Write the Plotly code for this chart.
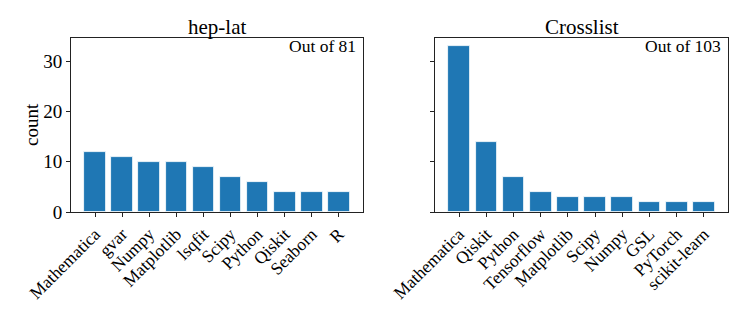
import plotly.graph_objects as go

hep_cats = ["Mathematica", "gvar", "Numpy", "Matplotlib", "lsqfit", "Scipy", "Python", "Qiskit", "Seaborn", "R"]
hep_vals = [12, 11, 10, 10, 9, 7, 6, 4, 4, 4]
cross_cats = ["Mathematica", "Qiskit", "Python", "Tensorflow", "Matplotlib", "Scipy", "Numpy", "GSL", "PyTorch", "scikit-learn"]
cross_vals = [33, 14, 7, 4, 3, 3, 3, 2, 2, 2]
y_ticks = [0, 10, 20, 30]

FONT = "Liberation Serif"
OFF = 8  # default page body margin
W, H = 747 - OFF, 312 - OFF


def px(v):
    return (v - OFF) / W


def py(v):
    return 1 - (v - OFF) / H


fig = go.Figure()
fig.add_trace(go.Bar(x=list(range(len(hep_cats))), y=hep_vals, width=0.8,
                     marker=dict(color="#1f77b4", line=dict(color="white", width=0.8)),
                     xaxis="x", yaxis="y", showlegend=False))
fig.add_trace(go.Bar(x=list(range(len(cross_cats))), y=cross_vals, width=0.8,
                     marker=dict(color="#1f77b4", line=dict(color="white", width=0.8)),
                     xaxis="x2", yaxis="y2", showlegend=False))

ydom = [py(212), py(38)]
axcommon = dict(showgrid=False, zeroline=False, showline=True, mirror=True,
                linecolor="#222", linewidth=1, ticks="outside", ticklen=4,
                tickcolor="#222", automargin=False)
yrange = [0, 34.65]
xrange = [-0.89, 9.89]
fig.update_layout(
    width=W, height=H, margin=dict(l=0, r=0, t=0, b=0),
    plot_bgcolor="white", paper_bgcolor="white",
    font=dict(family=FONT, color="black", size=17),
    bargap=0,
    xaxis=dict(domain=[px(71), px(363)], range=xrange, tickvals=list(range(10)),
               ticktext=hep_cats, tickangle=-45, anchor="y", tickfont=dict(size=17.5), **axcommon),
    yaxis=dict(domain=ydom, range=yrange, tickvals=y_ticks, anchor="x",
               tickfont=dict(size=19), **axcommon),
    xaxis2=dict(domain=[px(435), px(728)], range=xrange, tickvals=list(range(10)),
                ticktext=cross_cats, tickangle=-45, anchor="y2", tickfont=dict(size=17.5), **axcommon),
    yaxis2=dict(domain=ydom, range=yrange, tickvals=y_ticks, showticklabels=False,
                anchor="x2", **axcommon),
    annotations=[
        dict(text="count", x=px(31), y=py(125), xref="paper", yref="paper", textangle=-90,
             showarrow=False, font=dict(size=19), xanchor="center", yanchor="middle"),
        dict(text="hep-lat", x=px((71 + 363) / 2), y=py(27), xref="paper", yref="paper",
             showarrow=False, font=dict(size=21), xanchor="center", yanchor="middle"),
        dict(text="Crosslist", x=px((435 + 728) / 2), y=py(27), xref="paper", yref="paper",
             showarrow=False, font=dict(size=21), xanchor="center", yanchor="middle"),
        dict(text="Out of 81", x=px(358), y=py(46), xref="paper", yref="paper",
             showarrow=False, font=dict(size=17.5), xanchor="right", yanchor="middle"),
        dict(text="Out of 103", x=px(723), y=py(46), xref="paper", yref="paper",
             showarrow=False, font=dict(size=17.5), xanchor="right", yanchor="middle"),
    ],
)
fig.write_html("out.html")
